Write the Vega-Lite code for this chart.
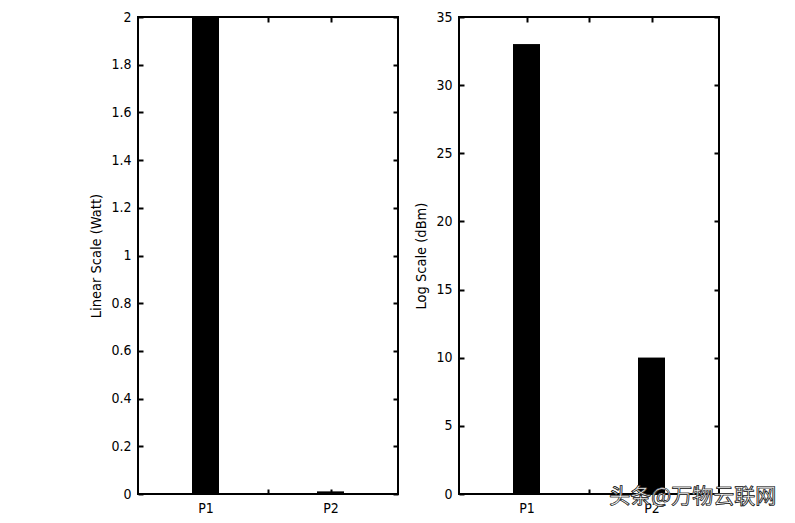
{
  "$schema": "https://vega.github.io/schema/vega-lite/v6.json",
  "background": "white",
  "padding": {"left": 87, "top": 9, "right": 5, "bottom": 5},
  "spacing": 12,
  "datasets": {
    "linear": [{"name": "P1", "pos": 1, "watt": 2.0}, {"name": "P2", "pos": 2, "watt": 0.01}],
    "log": [{"name": "P1", "pos": 1, "dbm": 33}, {"name": "P2", "pos": 2, "dbm": 10}]
  },
  "config": {
    "font": "DejaVu Sans Condensed, Liberation Sans, sans-serif",
    "view": {"stroke": "black", "strokeWidth": 2},
    "axis": {
      "grid": false, "domain": false, "tickColor": "black", "tickWidth": 2, "tickSize": -5,
      "labelFont": "DejaVu Sans Condensed, Liberation Sans, sans-serif", "labelFontSize": 14, "labelColor": "black",
      "titleFont": "DejaVu Sans Condensed, Liberation Sans, sans-serif", "titleFontSize": 14.5, "titleFontWeight": "normal", "titleColor": "black"
    }
  },
  "hconcat": [
    {
      "width": 260, "height": 477,
      "data": {"name": "linear"},
      "resolve": {"axis": {"x": "independent", "y": "independent"}},
      "layer": [
        {
          "mark": {"type": "bar", "color": "black", "size": 27},
          "encoding": {
            "x": {"field": "pos", "type": "quantitative", "scale": {"domain": [0.5, 2.5], "nice": false, "zero": false},
              "axis": {"orient": "bottom", "title": null, "values": [1, 1.5, 2], "labelExpr": "datum.value == 1 ? 'P1' : datum.value == 2 ? 'P2' : ''", "labelPadding": 12}},
            "y": {"field": "watt", "type": "quantitative", "scale": {"domain": [0, 2], "nice": false},
              "axis": {"orient": "left", "title": "Linear Scale (Watt)", "values": [0, 0.2, 0.4, 0.6, 0.8, 1, 1.2, 1.4, 1.6, 1.8, 2], "format": "~g", "labelPadding": 12, "titlePadding": 7}}
          }
        },
        {
          "mark": {"type": "bar", "color": "black", "size": 27},
          "encoding": {
            "x": {"field": "pos", "type": "quantitative", "axis": {"orient": "top", "title": null, "labels": false, "values": [1, 1.5, 2]}},
            "y": {"field": "watt", "type": "quantitative", "axis": {"orient": "right", "title": null, "labels": false, "values": [0, 0.2, 0.4, 0.6, 0.8, 1, 1.2, 1.4, 1.6, 1.8, 2]}}
          }
        }
      ]
    },
    {
      "width": 260, "height": 477,
      "data": {"name": "log"},
      "resolve": {"axis": {"x": "independent", "y": "independent"}},
      "layer": [
        {
          "mark": {"type": "bar", "color": "black", "size": 27},
          "encoding": {
            "x": {"field": "pos", "type": "quantitative", "scale": {"domain": [0.5, 2.5], "nice": false, "zero": false},
              "axis": {"orient": "bottom", "title": null, "values": [1, 1.5, 2], "labelExpr": "datum.value == 1 ? 'P1' : datum.value == 2 ? 'P2' : ''", "labelPadding": 12}},
            "y": {"field": "dbm", "type": "quantitative", "scale": {"domain": [0, 35], "nice": false},
              "axis": {"orient": "left", "title": "Log Scale (dBm)", "values": [0, 5, 10, 15, 20, 25, 30, 35], "labelPadding": 12, "titlePadding": 7}}
          }
        },
        {
          "mark": {"type": "bar", "color": "black", "size": 27},
          "encoding": {
            "x": {"field": "pos", "type": "quantitative", "axis": {"orient": "top", "title": null, "labels": false, "values": [1, 1.5, 2]}},
            "y": {"field": "dbm", "type": "quantitative", "axis": {"orient": "right", "title": null, "labels": false, "values": [0, 5, 10, 15, 20, 25, 30, 35]}}
          }
        },
        {
          "mark": {"type": "text", "text": "头条@万物云联网", "font": "Noto Sans CJK SC", "fontSize": 21, "fill": "white", "stroke": "#222", "strokeWidth": 0.7, "baseline": "middle", "align": "center"},
          "encoding": {
            "x": {"datum": 2.33, "type": "quantitative", "axis": null},
            "y": {"datum": -0.25, "type": "quantitative", "axis": null}
          }
        }
      ]
    }
  ]
}
